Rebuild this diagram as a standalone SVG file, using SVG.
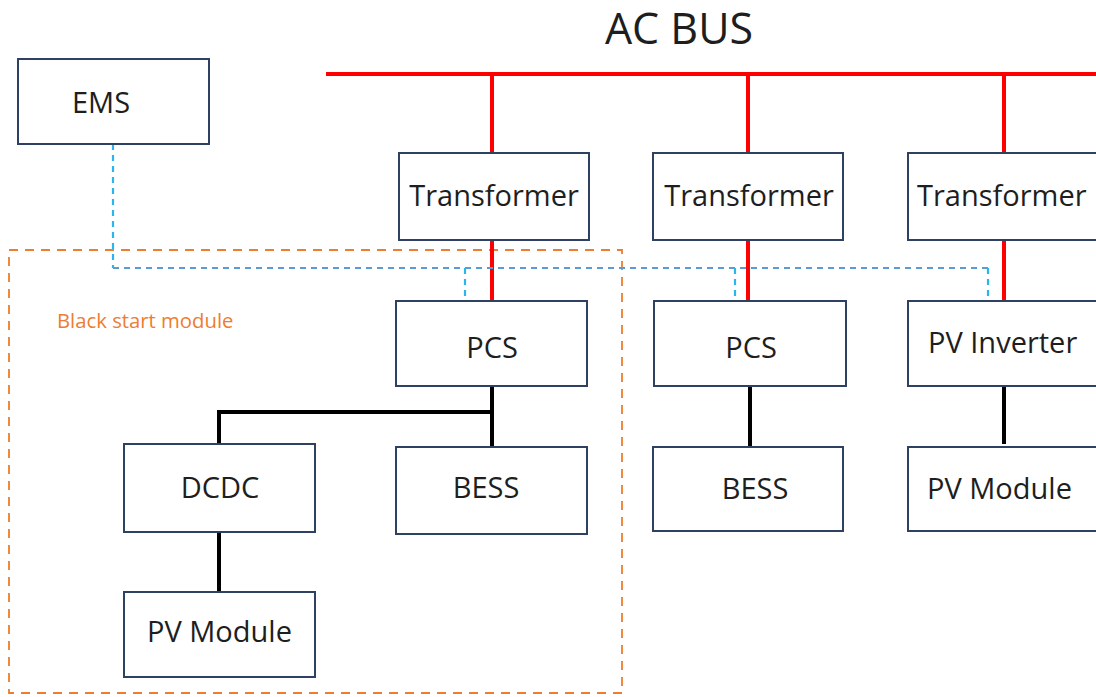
<svg xmlns="http://www.w3.org/2000/svg" width="1096" height="697" viewBox="0 0 1096 697">
  <style>
    .box { fill: #ffffff; stroke: #2f4163; stroke-width: 2; }
    .lbl { font-family: "Open Sans", "Liberation Sans", sans-serif; font-size: 29px; fill: #1e1e1e; }
    .ac { stroke: #ff0000; stroke-width: 4; fill: none; }
    .dc { stroke: #000000; stroke-width: 4; fill: none; stroke-linecap: square; }
    .ctrl { stroke: #5b9bd5; stroke-width: 1.8; fill: none; stroke-dasharray: 6 5; }
    .ctrl-drop { stroke: #2ab4f0; stroke-width: 2.2; fill: none; stroke-dasharray: 6 5; }
    .zone { stroke: #ed7d31; stroke-width: 1.8; fill: none; stroke-dasharray: 9 7; }
  </style>
  <rect width="1096" height="697" fill="#ffffff"/>

  <!-- bus title -->
  <text x="679" y="44" text-anchor="middle" style="font-family:'Open Sans','Liberation Sans',sans-serif;font-size:43px;fill:#1e1e1e">AC BUS</text>

  <!-- black start zone -->
  <g id="black-start-zone">
    <rect x="9" y="250" width="613" height="443" class="zone"/>
    <text x="57" y="328" style="font-family:'Open Sans','Liberation Sans',sans-serif;font-size:20.3px;fill:#ed7d31">Black start module</text>
  </g>

  <!-- connectors -->
  <g id="connectors">
    <!-- AC bus and feeders -->
    <line x1="326" y1="74" x2="1096" y2="74" class="ac"/>
    <line x1="492" y1="74" x2="492" y2="153" class="ac"/>
    <line x1="748" y1="74" x2="748" y2="153" class="ac"/>
    <line x1="1004" y1="74" x2="1004" y2="153" class="ac"/>
    <line x1="492" y1="240" x2="492" y2="301" class="ac"/>
    <line x1="748" y1="240" x2="748" y2="301" class="ac"/>
    <line x1="1004" y1="240" x2="1004" y2="301" class="ac"/>

    <!-- EMS control links -->
    <line x1="113" y1="144" x2="113" y2="268" class="ctrl-drop"/>
    <polyline points="113,268 988,268" class="ctrl"/>
    <line x1="465" y1="268" x2="465" y2="298" class="ctrl-drop"/>
    <line x1="735" y1="268" x2="735" y2="298" class="ctrl-drop"/>
    <line x1="988" y1="268" x2="988" y2="298" class="ctrl-drop"/>

    <!-- DC links -->
    <line x1="492" y1="386" x2="492" y2="446" class="dc"/>
    <polyline points="219,444 219,412 492,412" class="dc"/>
    <line x1="219" y1="532" x2="219" y2="591" class="dc"/>
    <line x1="750" y1="386" x2="750" y2="446" class="dc"/>
    <line x1="1004" y1="382" x2="1004" y2="442" class="dc"/>
  </g>

  <g id="ems">
    <rect x="18" y="59" width="191" height="85" class="box"/>
    <text x="72" y="113" class="lbl">EMS</text>
  </g>

  <g id="transformer-1">
    <rect x="399" y="153" width="190" height="87" class="box"/>
    <text x="494" y="206" text-anchor="middle" class="lbl">Transformer</text>
  </g>
  <g id="transformer-2">
    <rect x="653" y="153" width="190" height="87" class="box"/>
    <text x="749" y="206" text-anchor="middle" class="lbl">Transformer</text>
  </g>
  <g id="transformer-3">
    <rect x="908" y="153" width="200" height="87" class="box"/>
    <text x="917" y="206" class="lbl">Transformer</text>
  </g>

  <g id="pcs-1">
    <rect x="396" y="301" width="191" height="85" class="box"/>
    <text x="492" y="358" text-anchor="middle" class="lbl">PCS</text>
  </g>
  <g id="pcs-2">
    <rect x="654" y="301" width="192" height="85" class="box"/>
    <text x="751" y="358" text-anchor="middle" class="lbl">PCS</text>
  </g>
  <g id="pv-inverter">
    <rect x="908" y="301" width="200" height="85" class="box"/>
    <text x="928" y="353" class="lbl">PV Inverter</text>
  </g>

  <g id="dcdc">
    <rect x="124" y="444" width="191" height="88" class="box"/>
    <text x="220" y="498" text-anchor="middle" class="lbl">DCDC</text>
  </g>
  <g id="bess-1">
    <rect x="396" y="447" width="191" height="87" class="box"/>
    <text x="486" y="498" text-anchor="middle" class="lbl">BESS</text>
  </g>
  <g id="bess-2">
    <rect x="653" y="447" width="190" height="84" class="box"/>
    <text x="755" y="499" text-anchor="middle" class="lbl">BESS</text>
  </g>
  <g id="pv-module-2">
    <rect x="908" y="447" width="200" height="84" class="box"/>
    <text x="927" y="499" class="lbl">PV Module</text>
  </g>

  <g id="pv-module-1">
    <rect x="124" y="592" width="191" height="85" class="box"/>
    <text x="147" y="642" class="lbl">PV Module</text>
  </g>
</svg>
